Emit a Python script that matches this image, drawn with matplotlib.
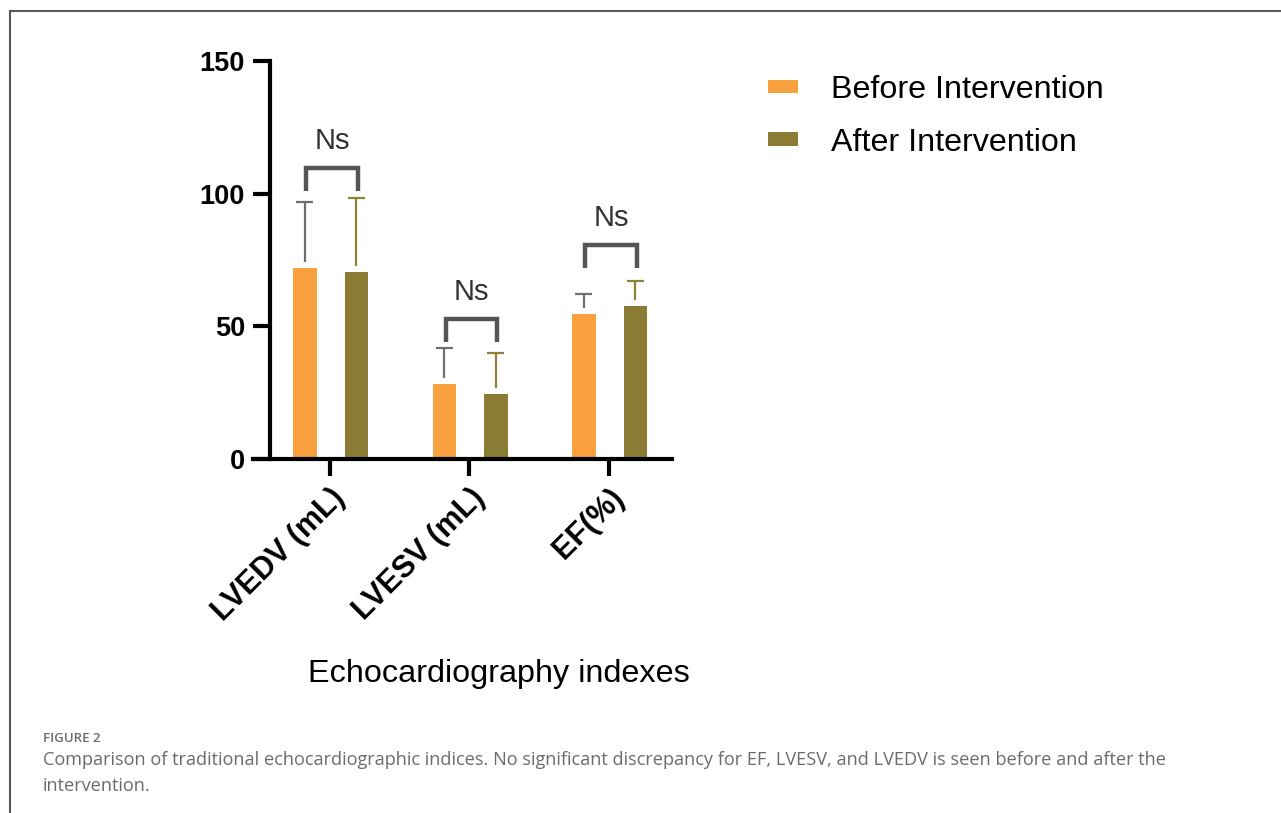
import numpy as np
import matplotlib
matplotlib.use("Agg")
import matplotlib.pyplot as plt
from matplotlib.lines import Line2D

plt.rcParams['font.family'] = ['Liberation Sans', 'DejaVu Sans']

# data
categories = ['LVEDV (mL)', 'LVESV (mL)', 'EF(%)']
before_mean = [72.1, 28.1, 54.7]
before_sd = [24.7, 13.6, 7.4]
after_mean = [70.6, 24.4, 57.7]
after_sd = [27.7, 15.4, 9.4]
bracket_top = [109.7, 52.7, 80.7]
sig_labels = ['Ns', 'Ns', 'Ns']
series_names = ['Before Intervention', 'After Intervention']
y_ticks = [0, 50, 100, 150]

c_before = '#F9A03F'
c_after = '#8A7B35'
err_before = '#6E6E6E'
err_after = '#8F8136'

W, H = 1281, 813
fig = plt.figure(figsize=(W / 100, H / 100), dpi=100, facecolor='w')

# frame around the figure panel
fig.add_artist(Line2D([10 / W, 10 / W], [0, 1 - 11 / H], color='#5a5a5a', lw=1.5))
fig.add_artist(Line2D([10 / W, 1], [1 - 11 / H, 1 - 11 / H], color='#5a5a5a', lw=1.5))

ax = fig.add_axes([253 / W, (H - 459) / H, 419 / W, 398 / H])

# spines first: moving a spine resets its ticks
for side in ['top', 'right']:
    ax.spines[side].set_visible(False)
ax.spines['left'].set_position(('axes', 17 / 419))
for side in ['left', 'bottom']:
    ax.spines[side].set_linewidth(3)
    ax.spines[side].set_capstyle('projecting')

x = np.arange(len(categories))
off_b, off_a, bw = -0.18, 0.19, 0.17

bars_b = ax.bar(x + off_b, before_mean, bw, color=c_before, label=series_names[0], zorder=2)
bars_a = ax.bar(x + off_a, after_mean, bw, color=c_after, label=series_names[1], zorder=2)

# upper-only error bars, starting a little above each bar
gap = 2.3
cap = 0.061
for xs, m, s, col in [(x + off_b, before_mean, before_sd, err_before),
                      (x + off_a, after_mean, after_sd, err_after)]:
    m = np.array(m)
    s = np.array(s)
    ax.vlines(xs, m + gap, m + s, color=col, lw=1.6, zorder=3)
    ax.hlines(m + s, xs - cap, xs + cap, color=col, lw=1.6, zorder=3)

# significance brackets
leg = 8.6
for i, top in enumerate(bracket_top):
    x1, x2 = x[i] + off_b + 0.01, x[i] + off_a + 0.01
    ax.plot([x1, x1, x2, x2], [top - leg, top, top, top - leg], color='#555555',
            lw=3.2, solid_joinstyle='miter', solid_capstyle='butt', zorder=3)
    ax.text((x1 + x2) / 2, top + 7.2, sig_labels[i], ha='center', va='baseline',
            fontsize=21, color='#333333')

ax.set_xlim(-0.552, 2.452)
ax.set_ylim(0, 150)
ax.spines['left'].set_bounds(0, 150)
ax.tick_params(axis='both', length=12, width=3, color='black', direction='out')
ax.tick_params(axis='y', pad=6)
ax.tick_params(axis='x', pad=5)
ax.set_yticks(y_ticks)
ax.set_yticklabels([str(v) for v in y_ticks], fontweight='bold', fontsize=19.5)
ax.set_xticks(x)
ax.set_xticklabels(categories, rotation=45, ha='right', va='top',
                   rotation_mode='anchor', fontweight='bold', fontsize=22)

ax.set_xlabel('Echocardiography indexes', fontsize=23.3, va='baseline')
ax.xaxis.set_label_coords(0.587, -0.560)

fig.legend(handles=[bars_b, bars_a], labels=series_names, loc='upper left',
           bbox_to_anchor=(768 / W, 1 - 75 / H), bbox_transform=fig.transFigure,
           frameon=False, fontsize=23.2, handlelength=0.94, handleheight=0.28,
           handletextpad=1.0, labelspacing=0.7, borderpad=0, borderaxespad=0)

# caption
cap_col = '#6b6b6b'
fig.text(43 / W, 1 - 742 / H, 'FIGURE 2', fontsize=9.5, color=cap_col,
         family=['Open Sans', 'DejaVu Sans'], fontweight='semibold', va='baseline')
fig.text(43 / W, 1 - 765 / H,
         'Comparison of traditional echocardiographic indices. No significant discrepancy '
         'for EF, LVESV, and LVEDV is seen before and after the',
         fontsize=13.1, color=cap_col, family=['Open Sans', 'DejaVu Sans'], va='baseline')
fig.text(43 / W, 1 - 791 / H, 'intervention.', fontsize=13.1, color=cap_col,
         family=['Open Sans', 'DejaVu Sans'], va='baseline')

fig.savefig('out.png', dpi=100, facecolor='w')
